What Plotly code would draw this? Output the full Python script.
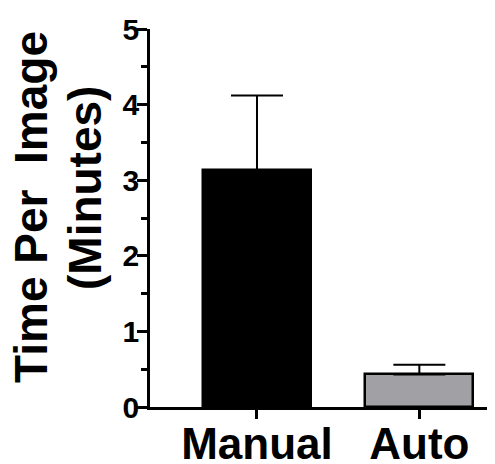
import plotly.graph_objects as go

categories = ["Manual", "Auto"]
means = [3.13, 0.43]
sem_upper = [0.99, 0.13]
bar_colors = ["#000000", "#A1A0A5"]
y_tick_vals = [0, 1, 2, 3, 4, 5]
y_tick_text = ["0", "1", "2", "3", "4", "5"]
title_line1 = "Time Per\u00a0 Image"
title_line2 = "(Minutes)"

OFF = 8  # page body margin
W, H = 495 - OFF, 464 - OFF
L, R, T, B = 150 - OFF, 0, 29 - OFF, 57
pw, ph = W - L - R, H - T - B

def px_x(p):
    return (p - OFF - L) / pw

def px_y(p):
    return (H - B - (p - OFF)) / ph

FONT = "Liberation Sans, Arial, sans-serif"

fig = go.Figure()
fig.add_trace(go.Bar(
    x=categories,
    y=means,
    width=0.665,
    marker=dict(color=bar_colors, line=dict(color="#000000", width=2.5)),
    error_y=dict(type="data", symmetric=False, array=sem_upper,
                 arrayminus=[0, 0], color="#000000", thickness=2, width=26),
))

fig.update_layout(
    width=W, height=H,
    margin=dict(l=L, r=R, t=T, b=B, pad=0, autoexpand=False),
    plot_bgcolor="white", paper_bgcolor="white",
    showlegend=False,
    font=dict(family=FONT, color="#000000"),
    bargap=0,
)
fig.update_xaxes(
    range=[-0.659, 1.466],
    automargin=False,
    showline=True, linecolor="#000000", linewidth=2.5,
    ticks="outside", ticklen=9, tickwidth=2.5, tickcolor="#000000",
    tickfont=dict(family=FONT, size=44, color="#000000", weight="bold"),
    ticklabelstandoff=-13,
    showgrid=False, zeroline=False,
)
fig.update_yaxes(
    range=[0, 5],
    automargin=False,
    tickvals=y_tick_vals, ticktext=y_tick_text,
    showline=True, linecolor="#000000", linewidth=2.5,
    ticks="outside", ticklen=10, tickwidth=2.5, tickcolor="#000000",
    tickfont=dict(family=FONT, size=30, color="#000000", weight="bold"),
    ticklabelstandoff=-8,
    minor=dict(dtick=0.5, ticks="outside", ticklen=6, tickwidth=2.5, tickcolor="#000000", showgrid=False),
    showgrid=False, zeroline=False,
)

fig.add_annotation(text=title_line1, xref="paper", yref="paper",
                   x=px_x(31), y=px_y(207), textangle=-90, showarrow=False,
                   xanchor="center", yanchor="middle",
                   font=dict(family=FONT, size=46, color="#000000", weight="bold"))
fig.add_annotation(text=title_line2, xref="paper", yref="paper",
                   x=px_x(85), y=px_y(188), textangle=-90, showarrow=False,
                   xanchor="center", yanchor="middle",
                   font=dict(family=FONT, size=46, color="#000000", weight="bold"))

fig.write_html("out.html")
